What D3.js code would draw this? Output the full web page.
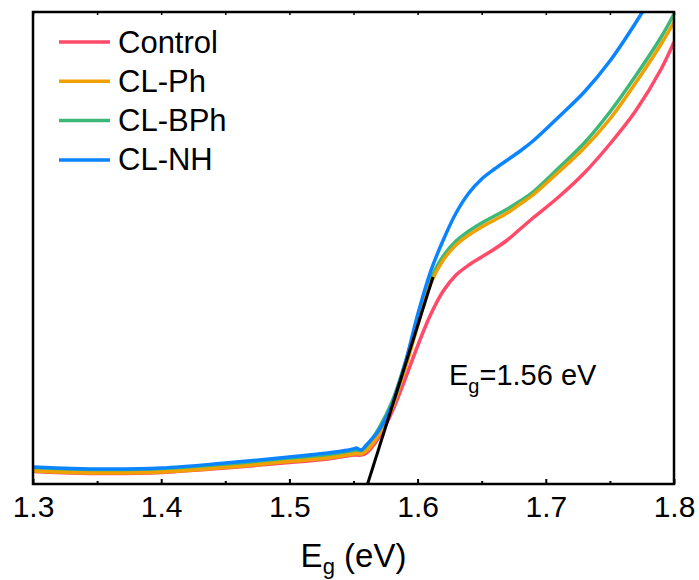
<!DOCTYPE html>
<html><head><meta charset="utf-8">
<script src="https://cdn.jsdelivr.net/npm/d3@7"></script>
<style>
body{margin:0;background:#fff;}
text{font-family:"Liberation Sans",Arial,Helvetica,sans-serif;fill:#000;}
</style>
</head><body>
<svg id="chart" width="699" height="580"></svg>
<script>
// ---- data ----
const energy = [1.30,1.33,1.36,1.40,1.45,1.50,1.53,1.55,1.552,1.556,1.56,1.57,1.58,1.59,1.60,1.61,1.62,1.63,1.64,1.65,1.66,1.67,1.68,1.69,1.71,1.73,1.75,1.77,1.79,1.80];
const control = [0.125,0.11,0.105,0.115,0.16,0.215,0.25,0.29,0.29,0.29,0.31,0.47,0.72,1.04,1.38,1.69,1.93,2.09,2.19,2.27,2.35,2.44,2.55,2.66,2.87,3.11,3.40,3.73,4.15,4.42];
const clPh    = [0.13,0.115,0.11,0.12,0.165,0.225,0.26,0.30,0.305,0.30,0.33,0.50,0.76,1.14,1.58,2.00,2.24,2.39,2.49,2.57,2.64,2.71,2.80,2.89,3.12,3.36,3.65,4.01,4.40,4.62];
const clBPh   = [0.145,0.13,0.125,0.135,0.185,0.24,0.28,0.32,0.33,0.32,0.37,0.56,0.82,1.20,1.64,2.04,2.28,2.43,2.53,2.61,2.68,2.75,2.83,2.92,3.16,3.41,3.72,4.08,4.47,4.70];
const clNH    = [0.17,0.155,0.15,0.16,0.21,0.27,0.31,0.35,0.36,0.34,0.39,0.54,0.79,1.19,1.69,2.12,2.44,2.71,2.91,3.05,3.15,3.24,3.33,3.43,3.67,3.92,4.23,4.61,5.03,5.24];
const seriesNames  = ["Control","CL-Ph","CL-BPh","CL-NH"];
const seriesValues = [control, clPh, clBPh, clNH];
const seriesColors = ["#FF4A6A","#F0A000","#3CB878","#0A84FF"];
const drawOrder = [0, 2, 1, 3];
const xTicks = [1.3,1.4,1.5,1.6,1.7,1.8];
const xMinorTicks = [1.35,1.45,1.55,1.65,1.75];
const tangentX = [1.561, 1.612];
const tangentY = [0, 2.07];
const xDomain = [1.3, 1.8];
const yDomain = [0, 4.72];

// ---- layout ----
const W = 699, H = 580;
const m = {left:33, right:25, top:12, bottom:96};
const svg = d3.select("#chart");
const x = d3.scaleLinear().domain(xDomain).range([m.left, W - m.right]);
const y = d3.scaleLinear().domain(yDomain).range([H - m.bottom, m.top]);

svg.append("defs").append("clipPath").attr("id","plotclip")
  .append("rect").attr("x", m.left).attr("y", m.top)
  .attr("width", W - m.left - m.right).attr("height", H - m.top - m.bottom);

const line = d3.line().x(d => x(d[0])).y(d => y(d[1])).curve(d3.curveCatmullRom.alpha(0.5));

const gLines = svg.append("g").attr("clip-path","url(#plotclip)");
drawOrder.forEach(i => {
  gLines.append("path")
    .datum(energy.map((e, k) => [e, seriesValues[i][k]]))
    .attr("d", line)
    .attr("fill","none")
    .attr("stroke", seriesColors[i])
    .attr("stroke-width", 3.5)
    .attr("stroke-linejoin","round");
});

// tangent line
svg.append("line")
  .attr("x1", x(tangentX[0])).attr("y1", y(tangentY[0]))
  .attr("x2", x(tangentX[1])).attr("y2", y(tangentY[1]))
  .attr("stroke","#000").attr("stroke-width",3);

// ---- axes ----
const axW = 2.5;
const gx = svg.append("g").attr("transform", `translate(0,${H - m.bottom})`)
  .call(d3.axisBottom(x).tickValues(xTicks).tickSize(-5).tickPadding(12).tickFormat(d3.format(".1f")));
gx.selectAll("text").attr("font-size", 30).style("font-family","'Liberation Sans',Arial,sans-serif");
gx.selectAll("line").attr("stroke-width", 2);
gx.select(".domain").remove();

const gxm = svg.append("g").attr("transform", `translate(0,${H - m.bottom})`)
  .call(d3.axisBottom(x).tickValues(xMinorTicks).tickSize(-3).tickFormat(""));
gxm.selectAll("line").attr("stroke-width", 2);
gxm.select(".domain").remove();

const gt = svg.append("g").attr("transform", `translate(0,${m.top})`)
  .call(d3.axisTop(x).tickValues(xTicks.concat(xMinorTicks)).tickSize(-3).tickFormat(""));
gt.selectAll("line").attr("stroke-width", 1.5);
gt.select(".domain").remove();

// frame
svg.append("rect")
  .attr("x", m.left).attr("y", m.top)
  .attr("width", W - m.left - m.right).attr("height", H - m.top - m.bottom)
  .attr("fill","none").attr("stroke","#000").attr("stroke-width", axW);

// axis title
const xt = svg.append("text").attr("x", (m.left + W - m.right)/2).attr("y", 567)
  .attr("text-anchor","middle").attr("font-size", 33);
xt.append("tspan").text("E");
xt.append("tspan").attr("font-size", 22).attr("dy", 7).text("g");
xt.append("tspan").attr("dy", -7).text(" (eV)");

// annotation
const an = svg.append("text").attr("x", 449).attr("y", 385).attr("font-size", 29);
an.append("tspan").text("E");
an.append("tspan").attr("font-size", 20).attr("dy", 8).text("g");
an.append("tspan").attr("dy", -8).text("=1.56 eV");

// legend
const legY0 = 42, legStep = 39.3;
seriesNames.forEach((name, i) => {
  const ly = legY0 + i * legStep;
  svg.append("line").attr("x1", 59).attr("x2", 110).attr("y1", ly).attr("y2", ly)
    .attr("stroke", seriesColors[i]).attr("stroke-width", 3.5);
  svg.append("text").attr("x", 118).attr("y", ly + 10.5).attr("font-size", 31).text(name);
});
</script>
</body></html>
